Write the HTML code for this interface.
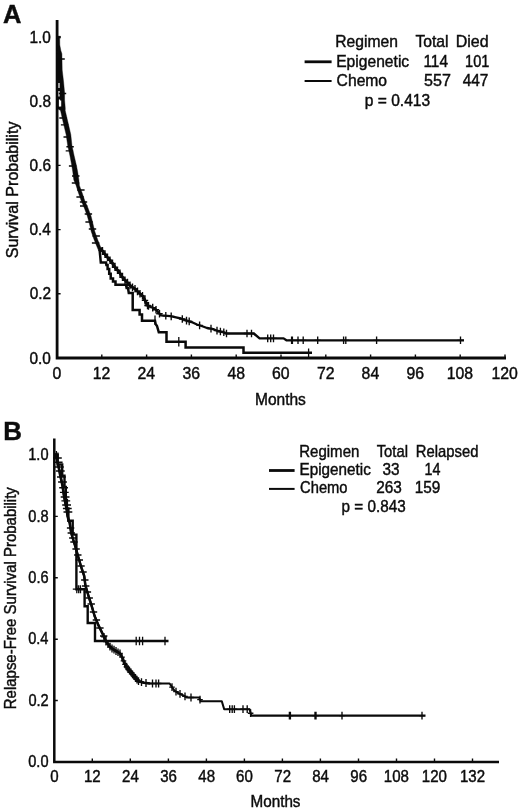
<!DOCTYPE html>
<html lang="en"><head><meta charset="utf-8"><title>Kaplan-Meier survival curves</title>
<style>html,body{margin:0;padding:0;background:#fff}body{width:520px;height:812px;overflow:hidden}svg{display:block}text{font-family:'Liberation Sans', Arial, Helvetica, sans-serif;fill:#0c0c0c;stroke:#0c0c0c;stroke-width:0.42px}</style>
</head><body>
<svg width="520" height="812" viewBox="0 0 520 812">
<rect width="520" height="812" fill="#fff"/>
<g id="panelA">
<text transform="translate(3.06,22.50) scale(0.9892,1)" font-size="25.8" font-weight="bold">A</text>
<path d="M57.1,20V358.0H506" fill="none" stroke="#0a0a0a" stroke-width="2.8" stroke-linejoin="miter"/>
<path d="M57.0,358.0V354.4M101.8,358.0V354.4M146.6,358.0V354.4M191.4,358.0V354.4M236.2,358.0V354.4M281.0,358.0V354.4M325.8,358.0V354.4M370.6,358.0V354.4M415.4,358.0V354.4M460.2,358.0V354.4M505.0,358.0V354.4M57.0,358.0H60.6M57.0,293.8H60.6M57.0,229.6H60.6M57.0,165.4H60.6M57.0,101.2H60.6M57.0,37.0H60.6" stroke="#0a0a0a" stroke-width="1.4" fill="none"/>
<text transform="translate(52.48,378.60) scale(1.0000,1)" font-size="15.8">0</text>
<text transform="translate(92.73,378.60) scale(1.0000,1)" font-size="15.8">12</text>
<text transform="translate(137.57,378.60) scale(1.0000,1)" font-size="15.8">24</text>
<text transform="translate(182.53,378.60) scale(1.0000,1)" font-size="15.8">36</text>
<text transform="translate(227.49,378.60) scale(1.0000,1)" font-size="15.8">48</text>
<text transform="translate(272.01,378.60) scale(1.0000,1)" font-size="15.8">60</text>
<text transform="translate(316.93,378.60) scale(1.0000,1)" font-size="15.8">72</text>
<text transform="translate(361.61,378.60) scale(1.0000,1)" font-size="15.8">84</text>
<text transform="translate(406.49,378.60) scale(1.0000,1)" font-size="15.8">96</text>
<text transform="translate(446.67,378.60) scale(1.0000,1)" font-size="15.8">108</text>
<text transform="translate(491.43,378.60) scale(1.0000,1)" font-size="15.8">120</text>
<text transform="translate(29.53,363.50) scale(0.9750,1)" font-size="15.8">0.0</text>
<text transform="translate(29.76,299.30) scale(0.9750,1)" font-size="15.8">0.2</text>
<text transform="translate(29.45,235.10) scale(0.9750,1)" font-size="15.8">0.4</text>
<text transform="translate(29.60,170.90) scale(0.9750,1)" font-size="15.8">0.6</text>
<text transform="translate(29.60,106.70) scale(0.9750,1)" font-size="15.8">0.8</text>
<text transform="translate(29.53,42.50) scale(0.9750,1)" font-size="15.8">1.0</text>
<text transform="translate(254.96,405.40) scale(0.9839,1)" font-size="15.8">Months</text>
<g transform="translate(17.8,0) rotate(-90)">
<text transform="translate(-258.32,0.00) scale(1.0182,1)" font-size="15.8">Survival Probability</text>
</g>
<text transform="translate(335.25,47.30) scale(0.9916,1)" font-size="15.8">Regimen</text>
<text transform="translate(415.39,47.30) scale(0.9939,1)" font-size="15.8">Total</text>
<text transform="translate(455.72,47.30) scale(1.0140,1)" font-size="15.8">Died</text>
<text transform="translate(336.15,66.50) scale(0.9899,1)" font-size="15.8">Epigenetic</text>
<text transform="translate(423.45,66.50) scale(0.9727,1)" font-size="15.8">114</text>
<text transform="translate(465.11,66.50) scale(0.9217,1)" font-size="15.8">101</text>
<text transform="translate(336.62,85.70) scale(0.9913,1)" font-size="15.8">Chemo</text>
<text transform="translate(423.95,85.70) scale(1.0207,1)" font-size="15.8">557</text>
<text transform="translate(462.69,85.70) scale(0.9762,1)" font-size="15.8">447</text>
<text transform="translate(364.79,105.60) scale(0.9857,1)" font-size="15.8">p = 0.413</text>
<path d="M304.6,61.8H331.6" stroke="#0a0a0a" stroke-width="2.8"/>
<path d="M304.6,81.0H331.6" stroke="#0a0a0a" stroke-width="2.0"/>
<polygon points="57.0,36.2 57.0,38.2 57.0,38.3 57.0,45.0 57.0,50.8 57.0,53.8 57.0,70.0 57.0,82.0 57.2,93.0 57.2,100.0 57.2,108.5 60.5,110.5 63.1,122.0 66.1,134.6 67.8,146.0 70.0,156.0 71.8,165.8 72.8,172.0 73.8,180.0 76.1,185.4 78.5,193.0 81.2,200.8 84.3,208.0 87.3,216.0 89.5,224.0 91.2,231.5 94.2,240.0 97.5,248.0 98.8,251.0 102.5,251.0 101.0,248.0 97.8,240.0 94.8,231.5 93.0,224.0 91.0,216.0 88.0,208.0 84.8,200.8 82.2,193.0 79.4,185.4 78.9,180.0 77.7,172.0 76.5,165.8 74.2,156.0 72.0,146.0 70.8,134.6 67.9,122.0 65.2,110.5 65.3,108.5 64.6,100.0 64.6,93.0 63.6,82.0 62.2,70.0 61.9,53.8 60.9,50.8 59.8,45.0 59.7,38.3 60.4,38.2 60.4,36.2" fill="#0a0a0a" stroke="#0a0a0a" stroke-width="0.4"/>
<path d="M59.0,83V88M59.0,91V96.5M59.5,99.5V106.5" stroke="#fff" stroke-width="1.2" fill="none"/><path d="M60.4,100.5V106.5" stroke="#fff" stroke-width="1.6" fill="none"/>
<polyline points="99.6,250.0 100.2,256.0 100.8,262.5 106.0,262.5 106.4,265.0 107.6,265.0 107.6,269.0 109.2,269.0 109.2,273.7 110.7,273.7 110.7,278.5 113.0,278.5 113.0,281.6 115.5,281.6 115.5,284.8 126.0,284.8 126.6,288.0 128.0,288.0 128.8,293.0 132.7,293.0 132.7,310.0 139.6,310.0 139.6,314.6 142.0,314.6 142.0,320.8 155.0,320.8 155.6,324.0 157.0,326.0 158.8,332.3 166.5,332.3 166.5,341.7 185.6,341.7 185.6,347.6 243.5,347.6 243.5,352.8 312.0,352.8" fill="none" stroke="#0a0a0a" stroke-width="2.5" stroke-linejoin="miter"/>
<path d="M155.0,315.6V324.8M155.0,320.2H155.0M178.8,336.9V346.5M178.8,341.7H178.8M308.6,348.6V357.0M308.6,352.8H308.6" stroke="#0a0a0a" stroke-width="1.3" fill="none"/>
<polyline points="100.4,248.0 104.0,253.0 108.0,258.0 112.0,262.5 115.8,268.5 118.8,271.5 123.5,278.8 127.0,282.0 131.0,286.5 135.0,288.8 138.8,292.7 142.7,296.0 145.0,300.4 147.3,305.4 151.0,307.0 155.0,308.5 158.0,312.0 161.0,315.4 170.4,316.2 176.0,317.4 181.0,318.5 186.0,320.5 191.5,322.0 197.0,324.5 203.0,326.5 207.0,328.0 212.3,328.8 218.0,331.0 223.8,332.3 226.0,333.5 253.8,333.5 259.6,338.4 283.6,338.4 286.4,340.3 464.0,340.3" fill="none" stroke="#0a0a0a" stroke-width="2.35" stroke-linejoin="round"/>
<polyline points="100.4,248.0 104.0,253.0 108.0,258.0 112.0,262.5 115.8,268.5 118.8,271.5 123.5,278.8 127.0,282.0 131.0,286.5 135.0,288.8 138.8,292.7 142.7,296.0 145.0,300.4 147.3,305.4" fill="none" stroke="#0a0a0a" stroke-width="2.7" stroke-linejoin="round"/>
<path d="M102.5,247.1V254.7M99.3,250.9H105.7M105.0,250.4V258.1M101.8,254.2H108.2M107.5,253.6V261.2M104.3,257.4H110.7M110.0,256.4V264.1M106.8,260.2H113.2M112.5,259.5V267.1M109.3,263.3H115.7M115.0,263.4V271.0M111.8,267.2H118.2M117.5,266.4V274.0M114.3,270.2H120.7M120.0,269.6V277.2M116.8,273.4H123.2M122.5,273.4V281.0M119.3,277.2H125.7M125.0,276.4V284.0M121.8,280.2H128.2M127.5,278.8V286.4M124.3,282.6H130.7M130.0,281.6V289.2M126.8,285.4H133.2M132.5,283.6V291.2M129.3,287.4H135.7M135.0,285.0V292.6M131.8,288.8H138.2M137.5,287.6V295.2M134.3,291.4H140.7M140.0,289.9V297.5M136.8,293.7H143.2M142.5,292.0V299.6M139.3,295.8H145.7M145.0,296.6V304.2M141.8,300.4H148.2M147.5,301.7V309.3M144.3,305.5H150.7M148.5,302.1V309.7M145.3,305.9H151.7M152.7,303.8V311.4M149.5,307.6H155.9M156.0,305.9V313.5M152.8,309.7H159.2M159.5,309.9V317.5M156.3,313.7H162.7M165.8,312.0V319.6M162.6,315.8H169.0M171.2,312.6V320.2M168.0,316.4H174.4M182.3,315.2V322.8M179.1,319.0H185.5M186.5,316.8V324.4M183.3,320.6H189.7M189.2,317.6V325.2M186.0,321.4H192.4M199.6,321.6V329.2M196.4,325.4H202.8M211.0,324.8V332.4M207.8,328.6H214.2M217.0,326.8V334.4M213.8,330.6H220.2M220.4,327.7V335.3M217.2,331.5H223.6M223.8,328.5V336.1M220.6,332.3H227.0M226.5,329.7V337.3M223.3,333.5H229.7M247.0,329.7V337.3M243.8,333.5H250.2M251.5,329.7V337.3M248.3,333.5H254.7M267.7,334.6V342.2M264.5,338.4H270.9M270.7,334.6V342.2M267.5,338.4H273.9M273.5,334.6V342.2M270.3,338.4H276.7M291.6,336.5V344.1M288.4,340.3H294.8M292.4,336.5V344.1M289.2,340.3H295.6M298.0,336.5V344.1M294.8,340.3H301.2M303.2,336.5V344.1M300.0,340.3H306.4M317.7,336.5V344.1M314.5,340.3H320.9M343.6,336.5V344.1M340.4,340.3H346.8M345.8,336.5V344.1M342.6,340.3H349.0M376.6,336.5V344.1M373.4,340.3H379.8M460.5,336.5V344.1M457.3,340.3H463.7M57.4,59.0H64.8M58.8,93.5H66.2M59.3,118.0H66.7M60.9,124.8H68.3M63.5,137.0H70.9M66.4,146.7H73.8M65.7,150.8H73.1M68.9,166.0H76.3M72.0,176.0H79.5M71.8,183.0H79.2M77.2,190.0H84.6M76.4,197.0H83.8M79.8,202.0H87.2M80.0,206.0H87.4M84.7,214.0H92.1M85.4,222.0H92.8M88.8,229.0H96.2M92.5,236.0H99.9M91.9,243.0H99.3" stroke="#0a0a0a" stroke-width="1.35" fill="none"/>
</g>
<g id="panelB">
<text transform="translate(3.22,439.50) scale(1.0158,1)" font-size="25.5" font-weight="bold">B</text>
<path d="M54.3,438.5V761.9H499" fill="none" stroke="#0a0a0a" stroke-width="2.5" stroke-linejoin="miter"/>
<path d="M54.3,761.9V758.4M92.3,761.9V758.4M130.3,761.9V758.4M168.4,761.9V758.4M206.4,761.9V758.4M244.4,761.9V758.4M282.4,761.9V758.4M320.4,761.9V758.4M358.5,761.9V758.4M396.5,761.9V758.4M434.5,761.9V758.4M472.5,761.9V758.4M54.3,761.9H57.8M54.3,700.5H57.8M54.3,639.2H57.8M54.3,577.8H57.8M54.3,516.4H57.8M54.3,455.1H57.8" stroke="#0a0a0a" stroke-width="1.4" fill="none"/>
<text transform="translate(50.28,781.70) scale(0.9600,1)" font-size="15.7">0</text>
<text transform="translate(83.97,781.70) scale(0.9600,1)" font-size="15.7">12</text>
<text transform="translate(122.02,781.70) scale(0.9600,1)" font-size="15.7">24</text>
<text transform="translate(160.20,781.70) scale(0.9600,1)" font-size="15.7">36</text>
<text transform="translate(198.37,781.70) scale(0.9600,1)" font-size="15.7">48</text>
<text transform="translate(236.12,781.70) scale(0.9600,1)" font-size="15.7">60</text>
<text transform="translate(274.26,781.70) scale(0.9600,1)" font-size="15.7">72</text>
<text transform="translate(312.16,781.70) scale(0.9600,1)" font-size="15.7">84</text>
<text transform="translate(350.26,781.70) scale(0.9600,1)" font-size="15.7">96</text>
<text transform="translate(383.87,781.70) scale(0.9600,1)" font-size="15.7">108</text>
<text transform="translate(421.85,781.70) scale(0.9600,1)" font-size="15.7">120</text>
<text transform="translate(459.98,781.70) scale(0.9600,1)" font-size="15.7">132</text>
<text transform="translate(28.22,767.00) scale(0.9300,1)" font-size="15.7">0.0</text>
<text transform="translate(28.43,705.63) scale(0.9300,1)" font-size="15.7">0.2</text>
<text transform="translate(28.14,644.26) scale(0.9300,1)" font-size="15.7">0.4</text>
<text transform="translate(28.29,582.89) scale(0.9300,1)" font-size="15.7">0.6</text>
<text transform="translate(28.29,521.52) scale(0.9300,1)" font-size="15.7">0.8</text>
<text transform="translate(28.22,460.15) scale(0.9300,1)" font-size="15.7">1.0</text>
<text transform="translate(250.48,807.00) scale(0.9720,1)" font-size="15.7">Months</text>
<g transform="translate(16.0,0) rotate(-90)">
<text transform="translate(-709.20,0.00) scale(0.9537,1)" font-size="15.7">Relapse-Free Survival Probability</text>
</g>
<text transform="translate(299.20,456.60) scale(0.9583,1)" font-size="15.7">Regimen</text>
<text transform="translate(376.70,456.60) scale(0.9436,1)" font-size="15.7">Total</text>
<text transform="translate(415.81,456.60) scale(0.9445,1)" font-size="15.7">Relapsed</text>
<text transform="translate(299.58,474.70) scale(0.9711,1)" font-size="15.7">Epigenetic</text>
<text transform="translate(382.39,474.70) scale(0.9771,1)" font-size="15.7">33</text>
<text transform="translate(424.53,474.70) scale(0.9126,1)" font-size="15.7">14</text>
<text transform="translate(300.06,492.90) scale(0.9387,1)" font-size="15.7">Chemo</text>
<text transform="translate(376.23,492.90) scale(0.9787,1)" font-size="15.7">263</text>
<text transform="translate(414.64,492.90) scale(0.9812,1)" font-size="15.7">159</text>
<text transform="translate(341.61,511.80) scale(0.9718,1)" font-size="15.7">p = 0.843</text>
<path d="M269.0,470.5H294.6" stroke="#0a0a0a" stroke-width="2.8"/>
<path d="M269.0,488.9H294.6" stroke="#0a0a0a" stroke-width="2.0"/>
<polyline points="54.5,454.6 57.7,454.6 57.7,464.5 62.2,464.5 62.2,475.7 64.5,475.7 64.5,487.0 65.8,487.0 65.8,500.0 66.9,500.0 66.9,508.5 68.4,508.5 68.4,520.8 72.7,520.8 72.7,534.6 76.4,534.6 76.4,589.2 84.6,589.2 84.6,606.2 87.7,606.2 87.7,623.0 95.0,623.0 95.0,641.0 168.5,641.0" fill="none" stroke="#0a0a0a" stroke-width="2.4" stroke-linejoin="miter"/>
<path d="M56.4,451.0V458.5M57.9,452.5V459M76.8,585.2V593.2M76.8,589.2H76.8M78.7,585.2V593.2M78.7,589.2H78.7M80.5,585.2V593.2M80.5,589.2H80.5M72.8,589.2H77M136.2,636.8V645.2M136.2,641.0H136.2M139.5,636.8V645.2M139.5,641.0H139.5M142.6,636.8V645.2M142.6,641.0H142.6M165.0,636.8V645.2M165.0,641.0H165.0" stroke="#0a0a0a" stroke-width="1.3" fill="none"/>
<polyline points="55.4,453.5 56.6,458.0 57.4,462.0 58.4,466.0 59.3,470.0 60.2,475.0 61.3,480.0 62.4,485.0 63.2,490.0 63.9,495.0 64.8,500.0 65.8,505.0 66.8,510.0 67.6,516.0 68.6,520.0 69.6,522.3 71.2,533.0 73.0,539.0 75.0,545.4 78.0,556.0 81.2,567.0 84.2,576.0 85.4,585.4 88.5,596.0 91.5,605.4 94.6,616.0 98.5,625.4 103.0,634.6 106.0,641.5 110.8,647.7 116.0,651.0 120.0,653.5 122.5,658.0 124.6,663.8 128.0,669.0 131.5,673.0 135.0,677.5 138.5,681.2 144.0,682.8 150.0,683.5 169.6,683.5 174.2,690.4 178.0,693.0 182.3,695.0 187.0,697.5 199.2,697.5 200.6,701.2 221.8,701.2 224.2,709.2 249.6,709.2 251.2,715.6 425.5,715.6" fill="none" stroke="#0a0a0a" stroke-width="2.05" stroke-linejoin="round"/>
<polyline points="55.4,453.5 56.6,458.0 57.4,462.0 58.4,466.0 59.3,470.0 60.2,475.0 61.3,480.0 62.4,485.0 63.2,490.0 63.9,495.0 64.8,500.0 65.8,505.0 66.8,510.0 67.6,516.0 68.6,520.0 69.6,522.3" fill="none" stroke="#0a0a0a" stroke-width="2.7" stroke-linejoin="round"/>
<polyline points="68.6,520.0 69.6,522.3 71.2,533.0 73.0,539.0 75.0,545.4 78.0,556.0 81.2,567.0 84.2,576.0 85.4,585.4 88.5,596.0 91.5,605.4 94.6,616.0 98.5,625.4 103.0,634.6 106.0,641.5 110.8,647.7 116.0,651.0 120.0,653.5 122.5,658.0 124.6,663.8 128.0,669.0 131.5,673.0 135.0,677.5 138.5,681.2 144.0,682.8 150.0,683.5" fill="none" stroke="#0a0a0a" stroke-width="2.5" stroke-linejoin="round"/>
<path d="M104.0,633.0V640.8M101.2,636.9H106.8M106.0,637.6V645.4M103.2,641.5H108.8M108.0,640.2V648.0M105.2,644.1H110.8M110.0,642.8V650.6M107.2,646.7H112.8M112.0,644.6V652.4M109.2,648.5H114.8M114.0,645.8V653.6M111.2,649.7H116.8M116.0,647.1V654.9M113.2,651.0H118.8M118.0,648.4V656.1M115.2,652.2H120.8M120.0,649.6V657.4M117.2,653.5H122.8M122.0,653.2V661.0M119.2,657.1H124.8M123.5,656.9V664.7M120.7,660.8H126.3M125.0,660.5V668.3M122.2,664.4H127.8M126.5,662.8V670.6M123.7,666.7H129.3M128.0,665.1V672.9M125.2,669.0H130.8M129.5,666.8V674.6M126.7,670.7H132.3M131.0,668.5V676.3M128.2,672.4H133.8M132.5,670.4V678.2M129.7,674.3H135.3M134.0,672.3V680.1M131.2,676.2H136.8M135.5,674.1V681.9M132.7,678.0H138.3M137.0,675.7V683.5M134.2,679.6H139.8M138.5,677.3V685.1M135.7,681.2H141.3M141.5,678.2V686.0M138.7,682.1H144.3M146.0,679.1V686.9M143.2,683.0H148.8M152.5,679.6V687.4M149.7,683.5H155.3M156.0,679.6V687.4M153.2,683.5H158.8M158.6,679.6V687.4M155.8,683.5H161.4M172.0,683.2V691.0M169.2,687.1H174.8M176.0,687.7V695.5M173.2,691.6H178.8M180.0,690.0V697.8M177.2,693.9H182.8M185.0,692.5V700.3M182.2,696.4H187.8M191.0,693.6V701.4M188.2,697.5H193.8M200.0,695.7V703.5M197.2,699.6H202.8M229.7,705.3V713.1M226.9,709.2H232.5M232.2,705.3V713.1M229.4,709.2H235.0M234.4,705.3V713.1M231.6,709.2H237.2M243.0,705.3V713.1M240.2,709.2H245.8M247.2,705.3V713.1M244.4,709.2H250.0M250.6,709.3V717.1M247.8,713.2H253.4M289.4,711.7V719.5M286.6,715.6H292.2M290.4,711.7V719.5M287.6,715.6H293.2M315.0,711.7V719.5M312.2,715.6H317.8M316.0,711.7V719.5M313.2,715.6H318.8M342.0,711.7V719.5M339.2,715.6H344.8M422.0,711.7V719.5M419.2,715.6H424.8M53.0,458.0H61.8M53.8,462.2H62.6M55.0,467.0H63.8M55.9,471.0H64.7M57.0,477.0H65.8M58.1,482.0H66.9M59.2,487.7H68.0M59.9,492.3H68.7M60.7,497.0H69.5M61.4,500.8H70.2M62.2,505.0H71.0M62.9,508.5H71.7M63.5,512.0H72.3M66.9,528.0H74.3M67.6,533.0H75.0M69.1,538.0H76.5M70.3,542.0H77.7M72.4,549.0H79.8M74.1,555.0H81.5M75.6,560.0H83.0M77.3,566.0H84.7M79.3,572.0H86.7M81.1,580.0H88.5M82.0,586.0H89.4M83.7,592.0H91.1M85.5,598.0H92.9M87.5,604.0H94.9M89.8,612.0H97.2M92.7,620.0H100.1M96.2,628.0H103.6M100.0,636.0H107.4" stroke="#0a0a0a" stroke-width="1.35" fill="none"/>
</g>
</svg>
</body></html>
